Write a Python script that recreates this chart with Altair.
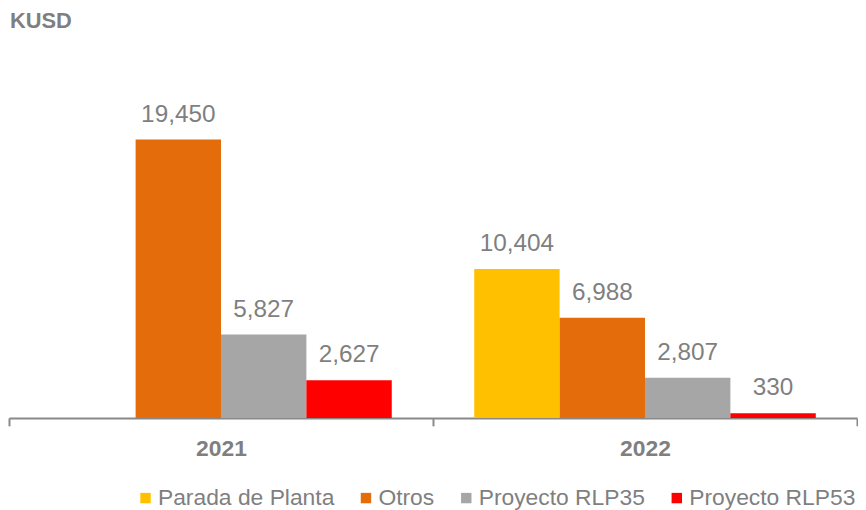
import altair as alt
import pandas as pd

years = ["2021", "2022"]
series = ["Parada de Planta", "Otros", "Proyecto RLP35", "Proyecto RLP53"]
colors = ["#FFC000", "#E46C0A", "#A6A6A6", "#FF0000"]
values_2021 = [0, 19450, 5827, 2627]
values_2022 = [10404, 6988, 2807, 330]

rows = []
for s, v in zip(series, values_2021):
    rows.append({"year": "2021", "series": s, "value": v})
for s, v in zip(series, values_2022):
    rows.append({"year": "2022", "series": s, "value": v})
df = pd.DataFrame(rows)

FONT = "Liberation Sans"
GRAY = "#7f7f7f"

base = alt.Chart(df).encode(
    x=alt.X(
        "year:N",
        sort=years,
        scale=alt.Scale(paddingInner=0, paddingOuter=0),
        axis=alt.Axis(
            title=None,
            labelAngle=0,
            tickBand="extent",
            domainColor="#898989",
            domainWidth=2,
            tickColor="#898989",
            tickWidth=2,
            tickSize=8,
            labelFontSize=23,
            labelFontWeight="bold",
            labelColor=GRAY,
            labelFont=FONT,
            labelPadding=12,
        ),
    ),
    xOffset=alt.XOffset(
        "series:N", sort=series, scale=alt.Scale(paddingOuter=0.483, paddingInner=0)
    ),
    y=alt.Y("value:Q", axis=None, scale=alt.Scale(domain=[0, 26630], nice=False)),
)

bars = base.mark_bar().encode(
    color=alt.Color(
        "series:N",
        sort=series,
        scale=alt.Scale(domain=series, range=colors),
        legend=alt.Legend(
            title=None,
            orient="none",
            legendX=126,
            legendY=453,
            direction="horizontal",
            symbolType="square",
            symbolSize=110,
            symbolStrokeWidth=0,
            labelFontSize=23,
            labelColor=GRAY,
            labelFont=FONT,
            labelOffset=1,
            labelLimit=0,
            columnPadding=20,
            padding=0,
        ),
    )
)

labels = base.transform_filter(alt.datum.value > 0).mark_text(
    baseline="bottom", dy=-13, fontSize=24.5, color=GRAY, font=FONT
).encode(text=alt.Text("value:Q", format=","))

chart = (
    alt.layer(bars, labels)
    .properties(
        width=854,
        height=384,
        title=alt.TitleParams(
            "KUSD",
            anchor="start",
            fontSize=22,
            fontWeight="bold",
            color=GRAY,
            font=FONT,
            offset=4,
            dx=2,
        ),
        padding={"left": 0, "top": 0, "right": 0, "bottom": 0},
    )
    .configure_view(stroke=None)
)

chart.save("out.html", embed_options={"renderer": "svg", "actions": False})
